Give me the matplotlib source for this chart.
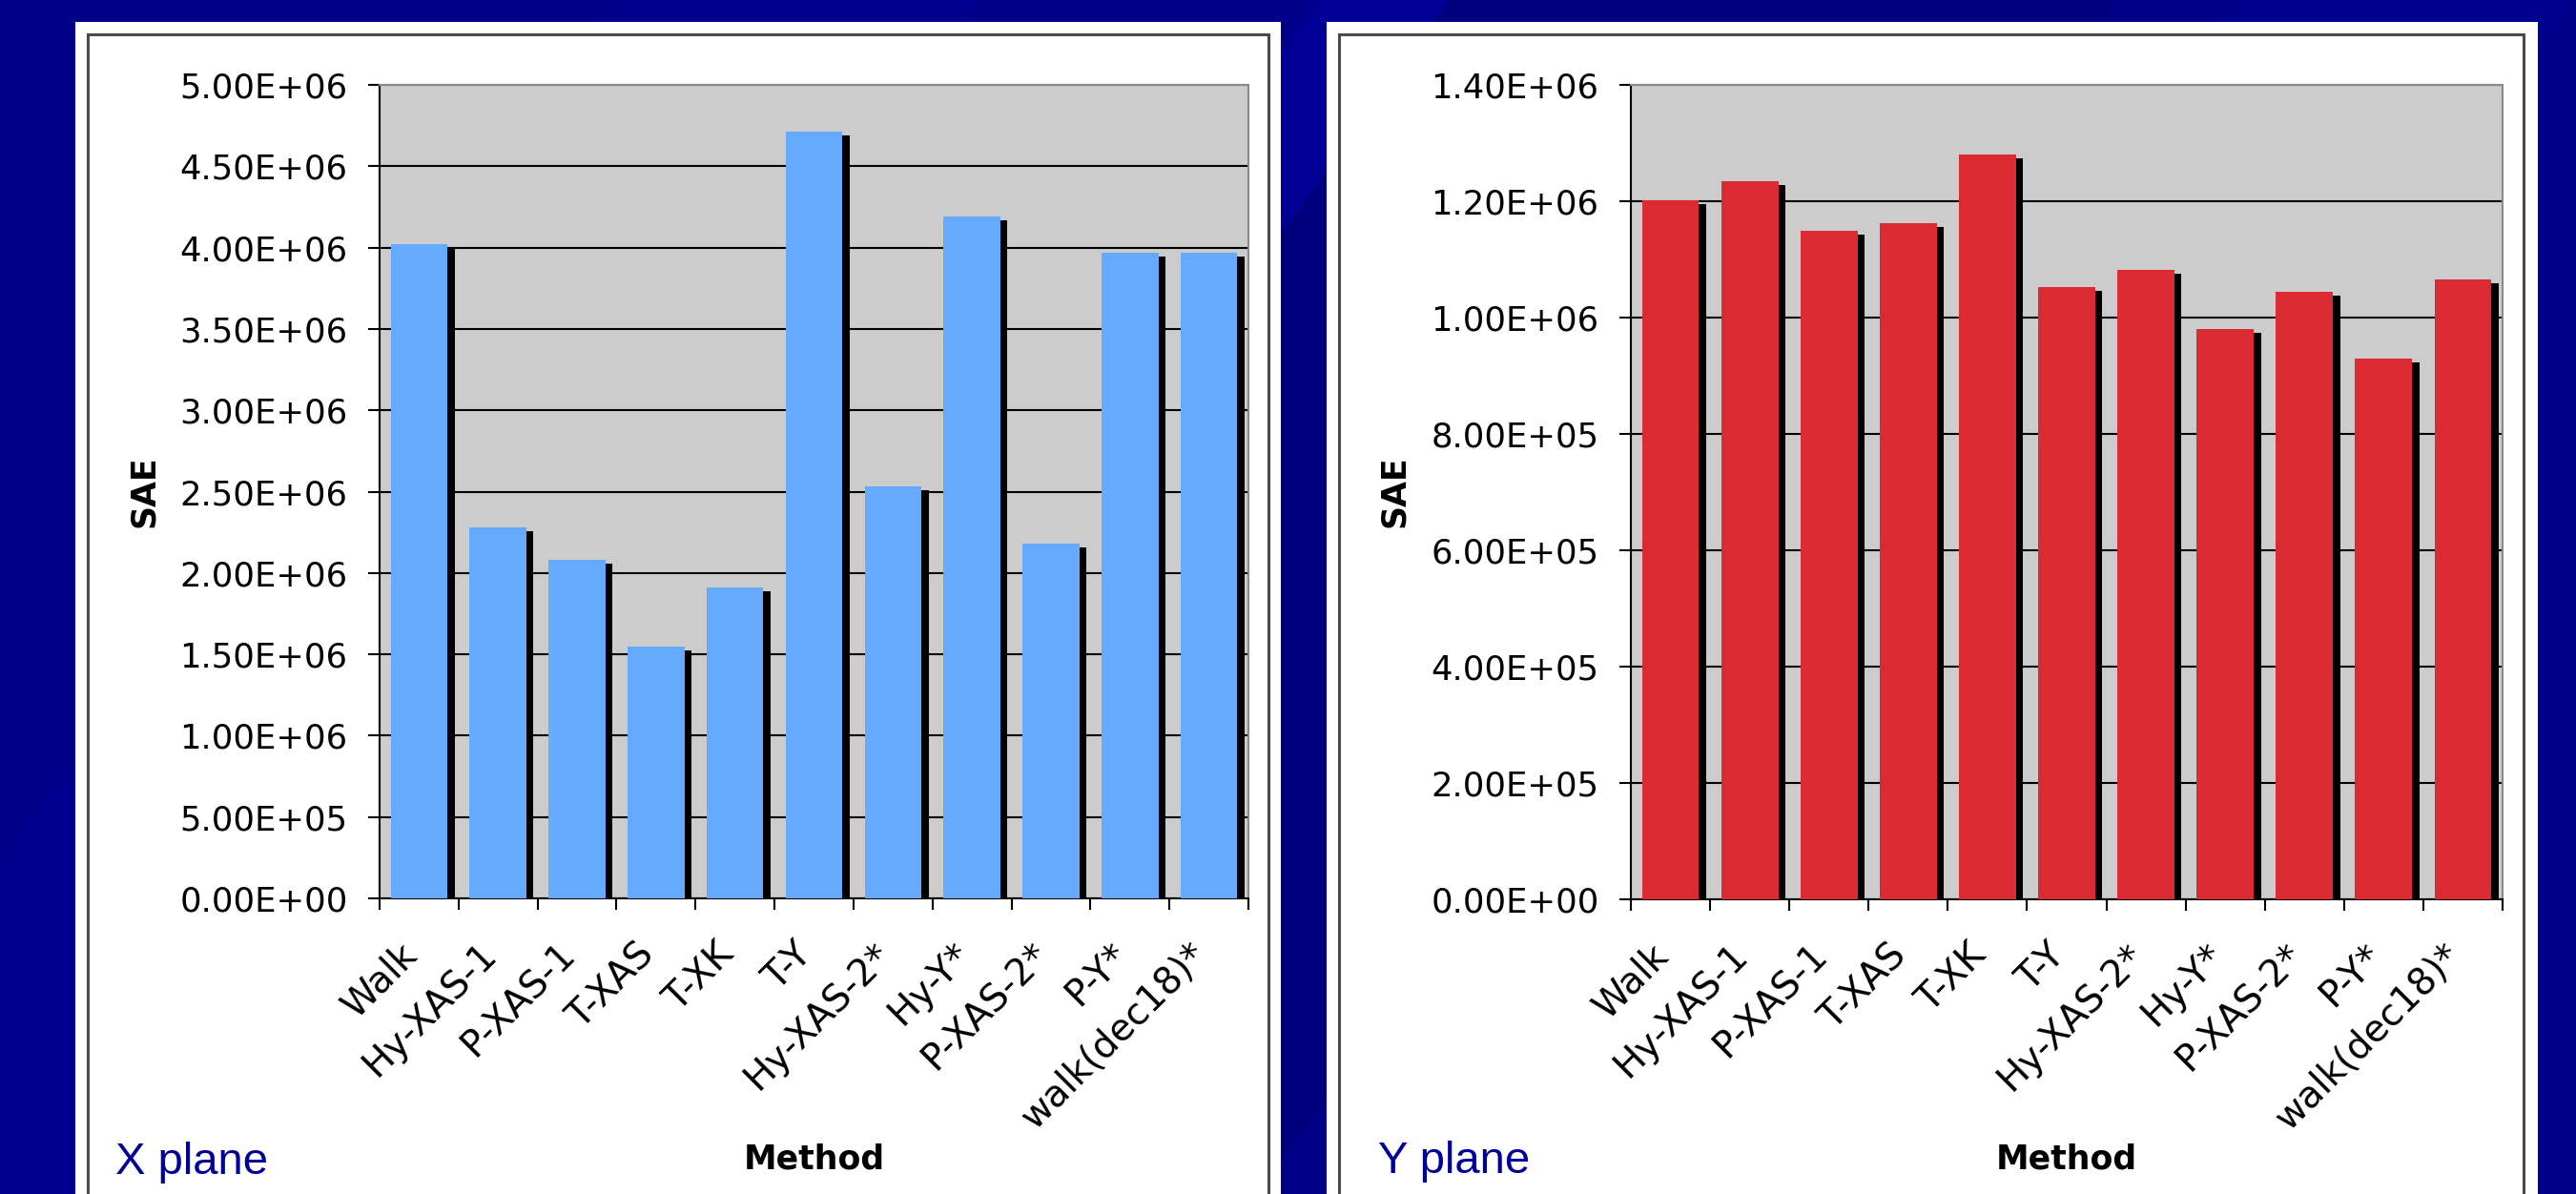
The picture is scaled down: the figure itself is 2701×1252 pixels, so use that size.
import matplotlib.pyplot as plt
import matplotlib.patches as mpatches
import matplotlib.transforms as mtransforms
import numpy as np

methods = ['Walk', 'Hy-XAS-1', 'P-XAS-1', 'T-XAS', 'T-XK', 'T-Y',
           'Hy-XAS-2*', 'Hy-Y*', 'P-XAS-2*', 'P-Y*', 'walk(dec18)*']
sae_xplane = [4.02e6, 2.28e6, 2.08e6, 1.55e6, 1.91e6, 4.71e6,
              2.53e6, 4.19e6, 2.18e6, 3.97e6, 3.97e6]
sae_yplane = [1.202e6, 1.234e6, 1.149e6, 1.163e6, 1.281e6, 1.053e6,
              1.082e6, 0.980e6, 1.045e6, 0.929e6, 1.065e6]
ticks_xplane = np.arange(0, 5.01e6, 5e5)
ticks_yplane = np.arange(0, 1.41e6, 2e5)

W, H = 2701, 1252
fig = plt.figure(figsize=(W / 100, H / 100), dpi=100)
fig.patch.set_facecolor('#000089')


def fx(px):
    return px / W


def fy(py):
    return 1 - py / H


# faint diagonal bands in the slide background
for x0, dx, c in [(650, 380, '#00008f'), (1380, 140, '#000094'),
                  (1520, 700, '#00007f'), (2350, 350, '#000090')]:
    band = mpatches.Polygon([(fx(x0), 1), (fx(x0 + dx), 1),
                             (fx(x0 + dx - 900), 0), (fx(x0 - 900), 0)],
                            closed=True, transform=fig.transFigure, facecolor=c,
                            edgecolor='none', zorder=-3)
    fig.add_artist(band)

# white panels with a thin dark frame
for x0, x1, b0, b1 in [(79, 1343, 92, 1330), (1391, 2661, 1404, 2646)]:
    fig.add_artist(mpatches.Rectangle((fx(x0), -0.02), fx(x1 - x0), fy(23) + 0.02,
                                      transform=fig.transFigure, facecolor='white',
                                      edgecolor='none', zorder=-2))
    fig.add_artist(mpatches.Rectangle((fx(b0), -0.02), fx(b1 - b0), fy(36) + 0.02,
                                      transform=fig.transFigure, fill=False,
                                      edgecolor='#4a4a4a', lw=2.2, zorder=-1))


def chart(rect, vals, ticks, color):
    ax = fig.add_axes(rect)
    ax.set_facecolor('#cccccc')
    ax.set_axisbelow(True)
    ax.yaxis.grid(True, color='black', lw=1.5)
    pos = np.arange(len(methods))
    shift = mtransforms.ScaledTranslation(0, -4 / 100, fig.dpi_scale_trans)
    ax.bar(pos + 0.405, vals, width=0.09, color='black',
           transform=ax.transData + shift, zorder=2)
    ax.bar(pos, vals, width=0.72, color=color, zorder=3)
    ax.set_xlim(-0.5, len(methods) - 0.5)
    ax.set_ylim(0, ticks[-1])
    ax.set_yticks(ticks)
    ax.set_yticklabels(['%.2E' % t for t in ticks])
    ax.set_xticks(np.arange(-0.5, len(methods)))
    ax.set_xticklabels([])
    ax.set_xticks(pos, minor=True)
    ax.set_xticklabels(methods, minor=True)
    ax.tick_params(axis='both', which='major', direction='out', length=8.6,
                   width=1.5, color='black')
    ax.tick_params(axis='y', labelsize=25.5, pad=15.5)
    ax.tick_params(axis='x', which='minor', length=0, labelsize=28, pad=38)
    nudge = mtransforms.ScaledTranslation(-8 / 100, 0, fig.dpi_scale_trans)
    for lbl in ax.get_xticklabels(minor=True):
        lbl.set_rotation(45)
        lbl.set_ha('right')
        lbl.set_va('center')
        lbl.set_rotation_mode('anchor')
        lbl.set_transform(lbl.get_transform() + nudge)
    for side in ['left', 'bottom']:
        ax.spines[side].set_color('black')
        ax.spines[side].set_linewidth(1.5)
    for side in ['top', 'right']:
        ax.spines[side].set_color('#8a8a8a')
        ax.spines[side].set_linewidth(1.5)
    return ax


chart([fx(398), fy(942), fx(1309 - 398), fy(89) - fy(942)],
      sae_xplane, ticks_xplane, '#66aaff')
chart([fx(1710), fy(943), fx(2624 - 1710), fy(89) - fy(943)],
      sae_yplane, ticks_yplane, '#dc2a33')

for x, y in [(151, 515), (1462, 515)]:
    fig.text(fx(x), fy(y), 'SAE', rotation=90, ha='center', va='center',
             fontsize=25, fontweight='bold')
for x in [854, 2167]:
    fig.text(fx(x), fy(1216), 'Method', ha='center', va='center',
             fontsize=25, fontweight='bold')
fig.text(fx(121), fy(1231), 'X plane', ha='left', va='baseline',
         fontsize=34, color='#000099', family=['Liberation Sans', 'DejaVu Sans'])
fig.text(fx(1445), fy(1230), 'Y plane', ha='left', va='baseline',
         fontsize=34, color='#000099', family=['Liberation Sans', 'DejaVu Sans'])

fig.savefig('out.png', dpi=100, facecolor=fig.get_facecolor())
